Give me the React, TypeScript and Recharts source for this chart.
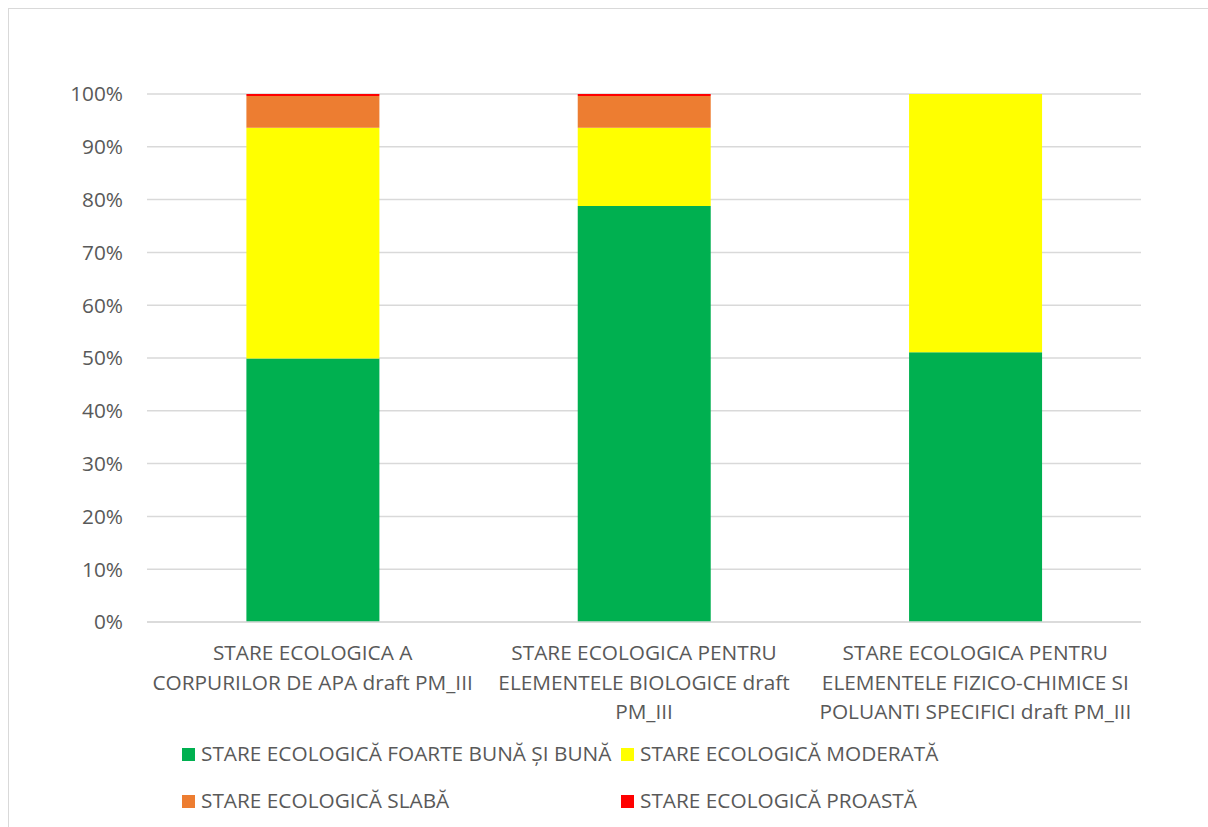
import React from "react";
import {
  Bar,
  BarChart,
  CartesianGrid,
  Legend,
  XAxis,
  YAxis,
} from "recharts";

const categories = [
  "STARE ECOLOGICA A\nCORPURILOR DE APA draft PM_III",
  "STARE ECOLOGICA PENTRU\nELEMENTELE BIOLOGICE draft\nPM_III",
  "STARE ECOLOGICA PENTRU\nELEMENTELE FIZICO-CHIMICE SI\nPOLUANTI SPECIFICI draft PM_III",
];

const foarteBunaSiBuna = [49.9, 78.8, 51.1];
const moderata = [43.7, 14.8, 48.9];
const slaba = [6.0, 6.0, 0];
const proasta = [0.4, 0.4, 0];

const yTicks = [0, 10, 20, 30, 40, 50, 60, 70, 80, 90, 100];

const series = [
  { key: "buna", name: "STARE ECOLOGICĂ FOARTE BUNĂ ȘI BUNĂ", color: "#00B050" },
  { key: "moderata", name: "STARE ECOLOGICĂ MODERATĂ", color: "#FFFF00" },
  { key: "slaba", name: "STARE ECOLOGICĂ SLABĂ", color: "#ED7D31" },
  { key: "proasta", name: "STARE ECOLOGICĂ PROASTĂ", color: "#FF0000" },
];

const data = categories.map((name, i) => ({
  name,
  buna: foarteBunaSiBuna[i],
  moderata: moderata[i],
  slaba: slaba[i],
  proasta: proasta[i],
}));

const FONT = "'Open Sans', sans-serif";
const TEXT = "#595959";
const FS = 20.8;

function CategoryTick({ x, y, payload }: any) {
  const lines = String(payload.value).split("\n");
  return (
    <text
      x={x}
      y={y}
      textAnchor="middle"
      fill={TEXT}
      fontSize={FS}
      fontFamily={FONT}
    >
      {lines.map((line, i) => (
        <tspan key={i} x={x} dy={i === 0 ? 38 : 29.5}>
          {line}
        </tspan>
      ))}
    </text>
  );
}

function LegendBox() {
  return (
    <div
      style={{
        height: 80,
        display: "grid",
        gridTemplateColumns: "439px 439px",
        rowGap: 14,
        fontFamily: FONT,
        fontSize: FS,
        color: TEXT,
      }}
    >
      {series.map((s) => (
        <div
          key={s.key}
          style={{ height: 33, display: "flex", alignItems: "center", whiteSpace: "nowrap" }}
        >
          <span
            style={{
              width: 13,
              height: 13,
              background: s.color,
              marginRight: 6,
              flex: "none",
            }}
          />
          <span style={{ position: "relative", top: -2 }}>{s.name}</span>
        </div>
      ))}
    </div>
  );
}

export default function App() {
  return (
    <div
      style={{
        position: "fixed",
        left: 8,
        top: 8,
        width: 1200,
        height: 819,
        overflow: "hidden",
        borderTop: "1px solid #d9d9d9",
        borderLeft: "1px solid #d9d9d9",
        background: "#fff",
      }}
    >
      <BarChart
        width={1199}
        height={809}
        data={data}
        margin={{ top: 85, right: 67, left: 0, bottom: 0 }}
        barCategoryGap="30%"
      >
        <CartesianGrid vertical={false} stroke="#d9d9d9" strokeWidth={1.5} />
        <XAxis
          dataKey="name"
          height={116}
          axisLine={{ stroke: "#d9d9d9", strokeWidth: 1.5 }}
          tickLine={false}
          tickSize={0}
          tickMargin={0}
          interval={0}
          tick={<CategoryTick />}
        />
        <YAxis
          width={138}
          domain={[0, 100]}
          ticks={yTicks}
          axisLine={false}
          tickLine={false}
          tickSize={0}
          tickMargin={24}
          tickFormatter={(v: number) => `${v}%`}
          tick={{ fill: TEXT, fontSize: FS, fontFamily: FONT }}
        />
        <Legend
          content={<LegendBox />}
          wrapperStyle={{ left: 173, width: 900 }}
        />
        {series.map((s) => (
          <Bar
            key={s.key}
            dataKey={s.key}
            name={s.name}
            stackId="a"
            fill={s.color}
            isAnimationActive={false}
          />
        ))}
      </BarChart>
    </div>
  );
}
